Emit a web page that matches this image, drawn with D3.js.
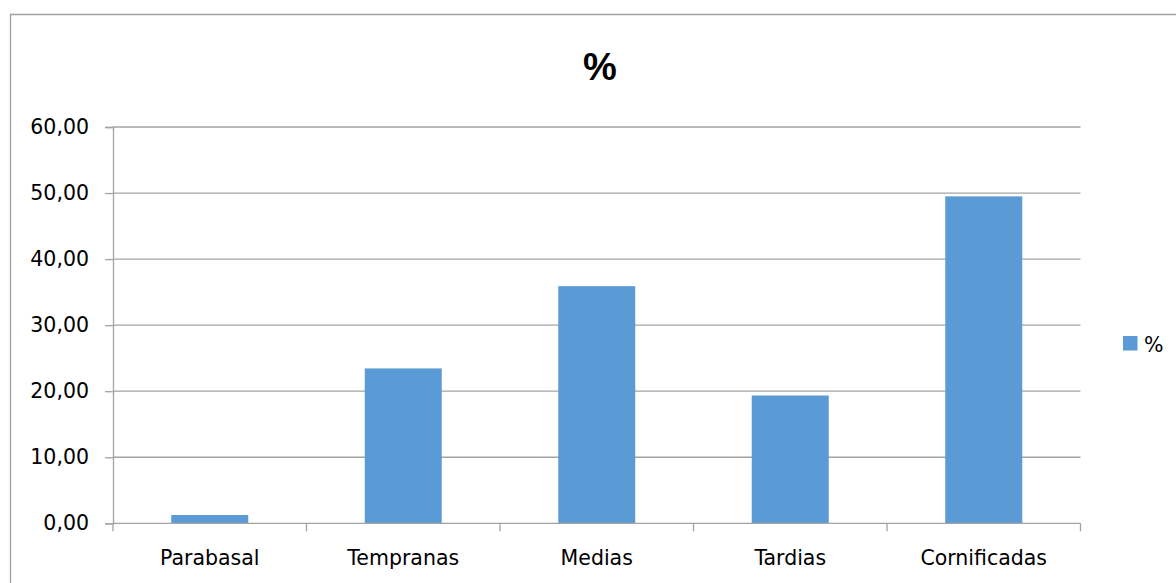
<!DOCTYPE html>
<html>
<head>
<meta charset="utf-8">
<script src="https://cdn.jsdelivr.net/npm/d3@7"></script>
<style>
  html, body { margin: 0; padding: 0; background: #fff; }
  svg { display: block; }
  text { font-family: "DejaVu Sans", Verdana, sans-serif; fill: #000; }
</style>
</head>
<body>
<svg id="chart" width="1176" height="583"></svg>
<script>
// Cell type shares (%)
const categories = ["Parabasal", "Tempranas", "Medias", "Tardias", "Cornificadas"];
const values = [1.25, 23.45, 35.9, 19.35, 49.5];
const yTicks = [0, 10, 20, 30, 40, 50, 60];
const seriesName = "%";
const chartTitle = "%";

const svg = d3.select("#chart");
const W = 1176, H = 583;
const plot = { left: 113, right: 1080.5, top: 127, bottom: 523.3 };
const gridColor = "#a3a3a3";
const barColor = "#5b9bd5";

// Outer chart frame (top and left edges fall inside the window)
svg.append("path")
  .attr("d", `M10.5,${H} V14.5 H${W}`)
  .attr("fill", "none")
  .attr("stroke", "#a0a0a0")
  .attr("stroke-width", 1.3);

const x = d3.scaleBand()
  .domain(categories)
  .range([plot.left, plot.right])
  .paddingInner(0.602)
  .paddingOuter(0.301);

const y = d3.scaleLinear()
  .domain([0, 60])
  .range([plot.bottom, plot.top]);

const fmt = v => d3.format(".2f")(v).replace(".", ",");

// Horizontal gridlines
svg.append("g")
  .selectAll("line")
  .data(yTicks.filter(t => t > 0))
  .join("line")
  .attr("x1", plot.left).attr("x2", plot.right)
  .attr("y1", d => y(d)).attr("y2", d => y(d))
  .attr("stroke", gridColor)
  .attr("stroke-width", 1.3);

// Bars
svg.append("g")
  .selectAll("rect")
  .data(values)
  .join("rect")
  .attr("x", (d, i) => x(categories[i]))
  .attr("width", x.bandwidth())
  .attr("y", d => y(d))
  .attr("height", d => y(0) - y(d))
  .attr("fill", barColor);

// Y axis
const yAxis = d3.axisLeft(y)
  .tickValues(yTicks)
  .tickFormat(fmt)
  .tickSize(8)
  .tickPadding(16);
const gy = svg.append("g")
  .attr("transform", `translate(${plot.left},0)`)
  .call(yAxis);
gy.select(".domain").attr("stroke", gridColor).attr("stroke-width", 1.3);
gy.selectAll(".tick line").attr("stroke", gridColor).attr("stroke-width", 1.3);
gy.selectAll(".tick text")
  .style("font-family", "'DejaVu Sans', Verdana, sans-serif")
  .style("font-size", "20.5px")
  .attr("fill", "#000");

// X axis with ticks on category boundaries
const gx = svg.append("g")
  .attr("transform", `translate(0,${plot.bottom})`);
gx.append("line")
  .attr("x1", plot.left).attr("x2", plot.right)
  .attr("stroke", gridColor).attr("stroke-width", 1.3);
const bounds = categories.map(c => x(c) - x.step() * x.paddingInner() / 2 - 0)
  .map((v, i) => plot.left + i * x.step());
bounds.push(plot.right);
gx.selectAll("line.tk")
  .data(bounds)
  .join("line")
  .attr("class", "tk")
  .attr("x1", d => d).attr("x2", d => d)
  .attr("y1", 0).attr("y2", 8)
  .attr("stroke", gridColor).attr("stroke-width", 1.3);
gx.selectAll("text")
  .data(categories)
  .join("text")
  .attr("x", d => x(d) + x.bandwidth() / 2)
  .attr("y", 42)
  .attr("text-anchor", "middle")
  .style("font-size", "20.5px")
  .text(d => d);

// Title
svg.append("text")
  .attr("x", 600)
  .attr("y", 80)
  .attr("text-anchor", "middle")
  .style("font-size", "38px")
  .style("font-weight", "bold")
  .style("font-family", "'Liberation Sans', Arial, sans-serif")
  .text(chartTitle);

// Legend
const lg = svg.append("g").attr("transform", "translate(1123,336)");
lg.append("rect").attr("width", 14.5).attr("height", 14.5).attr("fill", barColor);
lg.append("text")
  .attr("x", 21)
  .attr("y", 15.5)
  .style("font-size", "20.5px")
  .text(seriesName);
</script>
</body>
</html>
